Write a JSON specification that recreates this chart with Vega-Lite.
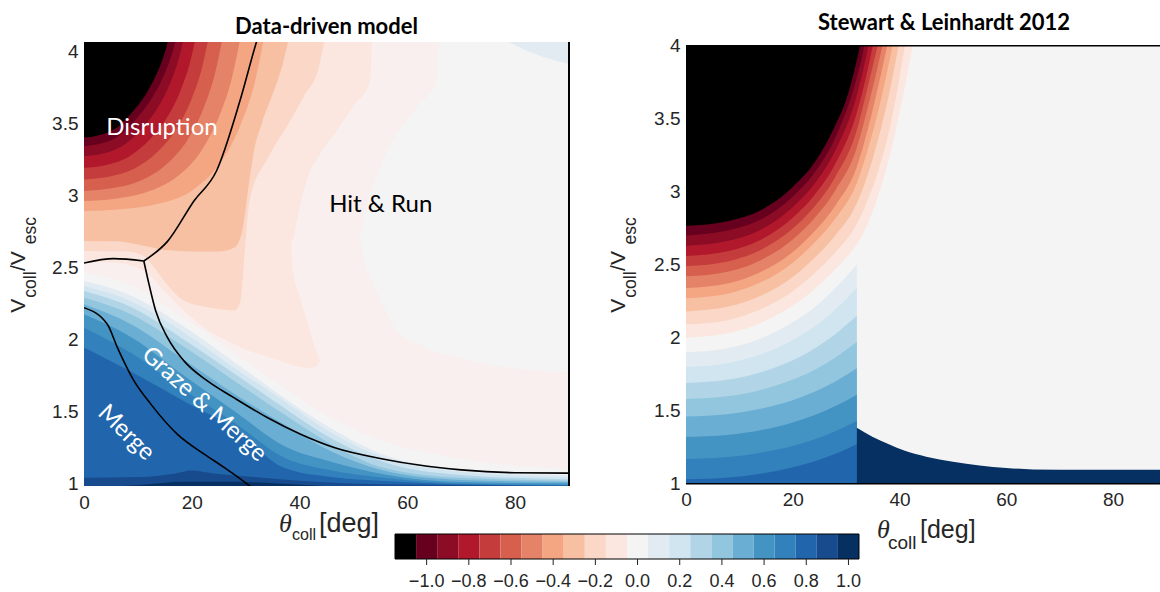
{
"$schema": "https://vega.github.io/schema/vega-lite/v6.json",
"padding": {"left": 7, "top": 11, "right": 0, "bottom": 0},
"background": "white",
"config": {
  "view": {"stroke": null},
  "axis": {"grid": false, "ticks": false, "domain": false, "labelFlush": false, "labelFont": "Liberation Sans", "labelFontSize": 19, "labelColor": "#262626", "title": null},
  "title": {"font": "Lato", "fontSize": 22, "fontWeight": "bold", "color": "#000000", "frame": "group", "baseline": "alphabetic"}
},
"datasets": {
  "a_fill": [
    {"p":"a00","z":-0.05,"t":0,"lo":0.98,"hi":4.07},{"p":"a00","z":-0.05,"t":90,"lo":0.98,"hi":4.07},
    {"p":"a01","z":0,"t":51.2,"lo":2.70,"hi":2.72},{"p":"a01","z":0,"t":52,"lo":2.55,"hi":2.86},{"p":"a01","z":0,"t":53.5,"lo":2.40,"hi":3.06},{"p":"a01","z":0,"t":55,"lo":2.28,"hi":3.20},{"p":"a01","z":0,"t":58,"lo":2.06,"hi":3.42},{"p":"a01","z":0,"t":62,"lo":1.97,"hi":3.62},{"p":"a01","z":0,"t":65.4,"lo":1.91,"hi":3.79},{"p":"a01","z":0,"t":66,"lo":1.905,"hi":4.07},{"p":"a01","z":0,"t":70,"lo":1.87,"hi":4.07},{"p":"a01","z":0,"t":75,"lo":1.83,"hi":4.07},{"p":"a01","z":0,"t":80,"lo":1.80,"hi":4.07},{"p":"a01","z":0,"t":85,"lo":1.78,"hi":4.07},{"p":"a01","z":0,"t":90,"lo":1.77,"hi":4.07},
    {"p":"a02","z":0.1,"t":78.4,"lo":4.07,"hi":4.07},{"p":"a02","z":0.1,"t":80,"lo":4.04,"hi":4.07},{"p":"a02","z":0.1,"t":83,"lo":3.99,"hi":4.07},{"p":"a02","z":0.1,"t":86,"lo":3.95,"hi":4.07},{"p":"a02","z":0.1,"t":90,"lo":3.91,"hi":4.07},
    {"p":"a10","z":0,"t":0,"lo":0.98,"hi":2.463},{"p":"a10","z":0,"t":9,"lo":0.98,"hi":2.37},{"p":"a10","z":0,"t":18.5,"lo":0.98,"hi":2.15},{"p":"a10","z":0,"t":28,"lo":0.98,"hi":1.90},{"p":"a10","z":0,"t":37.1,"lo":0.98,"hi":1.665},{"p":"a10","z":0,"t":46,"lo":0.98,"hi":1.45},{"p":"a10","z":0,"t":55.6,"lo":0.98,"hi":1.295},{"p":"a10","z":0,"t":70,"lo":0.98,"hi":1.17},{"p":"a10","z":0,"t":90,"lo":0.98,"hi":1.10},
    {"p":"a11","z":0.1,"t":0,"lo":0.98,"hi":2.405},{"p":"a11","z":0.1,"t":9,"lo":0.98,"hi":2.30},{"p":"a11","z":0.1,"t":18.5,"lo":0.98,"hi":2.09},{"p":"a11","z":0.1,"t":28,"lo":0.98,"hi":1.84},{"p":"a11","z":0.1,"t":37.1,"lo":0.98,"hi":1.596},{"p":"a11","z":0.1,"t":46,"lo":0.98,"hi":1.38},{"p":"a11","z":0.1,"t":55.6,"lo":0.98,"hi":1.20},{"p":"a11","z":0.1,"t":70,"lo":0.98,"hi":1.10},{"p":"a11","z":0.1,"t":90,"lo":0.98,"hi":1.06},
    {"p":"a12","z":0.2,"t":0,"lo":0.98,"hi":2.37},{"p":"a12","z":0.2,"t":9,"lo":0.98,"hi":2.26},{"p":"a12","z":0.2,"t":18.5,"lo":0.98,"hi":2.05},{"p":"a12","z":0.2,"t":28,"lo":0.98,"hi":1.80},{"p":"a12","z":0.2,"t":37.1,"lo":0.98,"hi":1.573},{"p":"a12","z":0.2,"t":46,"lo":0.98,"hi":1.35},{"p":"a12","z":0.2,"t":55.6,"lo":0.98,"hi":1.18},{"p":"a12","z":0.2,"t":70,"lo":0.98,"hi":1.08},{"p":"a12","z":0.2,"t":90,"lo":0.98,"hi":1.045},
    {"p":"a13","z":0.3,"t":0,"lo":0.98,"hi":2.336},{"p":"a13","z":0.3,"t":9,"lo":0.98,"hi":2.22},{"p":"a13","z":0.3,"t":18.5,"lo":0.98,"hi":2.00},{"p":"a13","z":0.3,"t":28,"lo":0.98,"hi":1.76},{"p":"a13","z":0.3,"t":37.1,"lo":0.98,"hi":1.526},{"p":"a13","z":0.3,"t":46,"lo":0.98,"hi":1.31},{"p":"a13","z":0.3,"t":55.6,"lo":0.98,"hi":1.15},{"p":"a13","z":0.3,"t":70,"lo":0.98,"hi":1.06},{"p":"a13","z":0.3,"t":90,"lo":0.98,"hi":1.03},
    {"p":"a14","z":0.4,"t":0,"lo":0.98,"hi":2.289},{"p":"a14","z":0.4,"t":9,"lo":0.98,"hi":2.17},{"p":"a14","z":0.4,"t":18.5,"lo":0.98,"hi":1.95},{"p":"a14","z":0.4,"t":28,"lo":0.98,"hi":1.71},{"p":"a14","z":0.4,"t":37.1,"lo":0.98,"hi":1.48},{"p":"a14","z":0.4,"t":46,"lo":0.98,"hi":1.27},{"p":"a14","z":0.4,"t":55.6,"lo":0.98,"hi":1.11},{"p":"a14","z":0.4,"t":70,"lo":0.98,"hi":1.04},{"p":"a14","z":0.4,"t":90,"lo":0.98,"hi":1.02},
    {"p":"a15","z":0.5,"t":0,"lo":0.98,"hi":2.243},{"p":"a15","z":0.5,"t":9,"lo":0.98,"hi":2.10},{"p":"a15","z":0.5,"t":18.5,"lo":0.98,"hi":1.86},{"p":"a15","z":0.5,"t":28,"lo":0.98,"hi":1.62},{"p":"a15","z":0.5,"t":37.1,"lo":0.98,"hi":1.411},{"p":"a15","z":0.5,"t":46,"lo":0.98,"hi":1.22},{"p":"a15","z":0.5,"t":55.6,"lo":0.98,"hi":1.09},{"p":"a15","z":0.5,"t":70,"lo":0.98,"hi":1.025},{"p":"a15","z":0.5,"t":90,"lo":0.98,"hi":1.01},
    {"p":"a16","z":0.6,"t":0,"lo":0.98,"hi":2.174},{"p":"a16","z":0.6,"t":9,"lo":0.98,"hi":2.01},{"p":"a16","z":0.6,"t":18.5,"lo":0.98,"hi":1.75},{"p":"a16","z":0.6,"t":28,"lo":0.98,"hi":1.50},{"p":"a16","z":0.6,"t":37.1,"lo":0.98,"hi":1.26},{"p":"a16","z":0.6,"t":46,"lo":0.98,"hi":1.15},{"p":"a16","z":0.6,"t":55.6,"lo":0.98,"hi":1.065},{"p":"a16","z":0.6,"t":70,"lo":0.98,"hi":1.01},{"p":"a16","z":0.6,"t":90,"lo":0.98,"hi":1.0},
    {"p":"a17","z":0.7,"t":0,"lo":0.98,"hi":2.081},{"p":"a17","z":0.7,"t":9,"lo":0.98,"hi":1.90},{"p":"a17","z":0.7,"t":18.5,"lo":0.98,"hi":1.65},{"p":"a17","z":0.7,"t":28,"lo":0.98,"hi":1.42},{"p":"a17","z":0.7,"t":37.1,"lo":0.98,"hi":1.18},{"p":"a17","z":0.7,"t":46,"lo":0.98,"hi":1.09},{"p":"a17","z":0.7,"t":55.6,"lo":0.98,"hi":1.04},{"p":"a17","z":0.7,"t":70,"lo":0.98,"hi":1.0},{"p":"a17","z":0.7,"t":90,"lo":0.98,"hi":0.99},
    {"p":"a18","z":0.8,"t":0,"lo":0.98,"hi":1.943},{"p":"a18","z":0.8,"t":9,"lo":0.98,"hi":1.77},{"p":"a18","z":0.8,"t":18.5,"lo":0.98,"hi":1.573},{"p":"a18","z":0.8,"t":28,"lo":0.98,"hi":1.38},{"p":"a18","z":0.8,"t":37.1,"lo":0.98,"hi":1.11},{"p":"a18","z":0.8,"t":46,"lo":0.98,"hi":1.045},{"p":"a18","z":0.8,"t":55.6,"lo":0.98,"hi":1.018},{"p":"a18","z":0.8,"t":70,"lo":0.98,"hi":0.995},{"p":"a18","z":0.8,"t":90,"lo":0.98,"hi":0.985},
    {"p":"a19","z":0.9,"t":0,"lo":0.98,"hi":1.04},{"p":"a19","z":0.9,"t":10,"lo":0.98,"hi":1.045},{"p":"a19","z":0.9,"t":17,"lo":0.98,"hi":1.07},{"p":"a19","z":0.9,"t":20,"lo":0.98,"hi":1.09},{"p":"a19","z":0.9,"t":24,"lo":0.98,"hi":1.07},{"p":"a19","z":0.9,"t":30,"lo":0.98,"hi":1.05},{"p":"a19","z":0.9,"t":40,"lo":0.98,"hi":1.02},{"p":"a19","z":0.9,"t":55,"lo":0.98,"hi":0.995},{"p":"a19","z":0.9,"t":90,"lo":0.98,"hi":0.985},
    {"p":"a20","z":1.0,"t":6,"lo":0.98,"hi":0.98},{"p":"a20","z":1.0,"t":12,"lo":0.98,"hi":0.995},{"p":"a20","z":1.0,"t":18,"lo":0.98,"hi":1.012},{"p":"a20","z":1.0,"t":28,"lo":0.98,"hi":1.012},{"p":"a20","z":1.0,"t":36,"lo":0.98,"hi":1.0},{"p":"a20","z":1.0,"t":46,"lo":0.98,"hi":0.98},
    {"p":"a31","z":-0.1,"t":0,"lo":2.532,"hi":4.07},{"p":"a31","z":-0.1,"t":5,"lo":2.535,"hi":4.07},{"p":"a31","z":-0.1,"t":9,"lo":2.51,"hi":4.07},{"p":"a31","z":-0.1,"t":12,"lo":2.45,"hi":4.07},{"p":"a31","z":-0.1,"t":15,"lo":2.33,"hi":4.07},{"p":"a31","z":-0.1,"t":18.5,"lo":2.20,"hi":4.07},{"p":"a31","z":-0.1,"t":22,"lo":2.09,"hi":4.07},{"p":"a31","z":-0.1,"t":26,"lo":2.00,"hi":4.07},{"p":"a31","z":-0.1,"t":30,"lo":1.93,"hi":4.07},{"p":"a31","z":-0.1,"t":34,"lo":1.88,"hi":4.07},{"p":"a31","z":-0.1,"t":38,"lo":1.83,"hi":4.07},{"p":"a31","z":-0.1,"t":38.6,"lo":1.82,"hi":2.52},{"p":"a31","z":-0.1,"t":40.1,"lo":1.81,"hi":2.29},{"p":"a31","z":-0.1,"t":41.9,"lo":1.80,"hi":2.06},{"p":"a31","z":-0.1,"t":43.0,"lo":1.81,"hi":1.93},{"p":"a31","z":-0.1,"t":43.8,"lo":1.85,"hi":1.86},
    {"p":"a32","z":-0.1,"t":37.6,"lo":2.70,"hi":4.07},{"p":"a32","z":-0.1,"t":38.6,"lo":2.68,"hi":4.07},{"p":"a32","z":-0.1,"t":39.6,"lo":2.84,"hi":4.07},{"p":"a32","z":-0.1,"t":41.3,"lo":3.10,"hi":4.07},{"p":"a32","z":-0.1,"t":44,"lo":3.30,"hi":4.07},{"p":"a32","z":-0.1,"t":46.9,"lo":3.445,"hi":4.07},{"p":"a32","z":-0.1,"t":50,"lo":3.62,"hi":4.07},{"p":"a32","z":-0.1,"t":53.1,"lo":3.79,"hi":4.07},{"p":"a32","z":-0.1,"t":53.4,"lo":4.07,"hi":4.07},
    {"p":"a33","z":-0.2,"t":0,"lo":2.613,"hi":4.07},{"p":"a33","z":-0.2,"t":8,"lo":2.61,"hi":4.07},{"p":"a33","z":-0.2,"t":11,"lo":2.58,"hi":4.07},{"p":"a33","z":-0.2,"t":13,"lo":2.50,"hi":4.07},{"p":"a33","z":-0.2,"t":15,"lo":2.40,"hi":4.07},{"p":"a33","z":-0.2,"t":18.5,"lo":2.27,"hi":4.07},{"p":"a33","z":-0.2,"t":22,"lo":2.23,"hi":4.07},{"p":"a33","z":-0.2,"t":25,"lo":2.21,"hi":4.07},{"p":"a33","z":-0.2,"t":27.8,"lo":2.20,"hi":4.07},{"p":"a33","z":-0.2,"t":29,"lo":2.26,"hi":4.07},{"p":"a33","z":-0.2,"t":29.8,"lo":2.60,"hi":4.07},{"p":"a33","z":-0.2,"t":30.8,"lo":2.98,"hi":4.07},{"p":"a33","z":-0.2,"t":34,"lo":3.25,"hi":4.07},{"p":"a33","z":-0.2,"t":38,"lo":3.50,"hi":4.07},{"p":"a33","z":-0.2,"t":41,"lo":3.70,"hi":4.07},{"p":"a33","z":-0.2,"t":43.5,"lo":3.88,"hi":4.07},{"p":"a33","z":-0.2,"t":44.6,"lo":4.07,"hi":4.07},
    {"p":"a34","z":-0.3,"t":0,"lo":2.683,"hi":4.07},{"p":"a34","z":-0.3,"t":6,"lo":2.68,"hi":4.07},{"p":"a34","z":-0.3,"t":11,"lo":2.65,"hi":4.07},{"p":"a34","z":-0.3,"t":15,"lo":2.62,"hi":4.07},{"p":"a34","z":-0.3,"t":20,"lo":2.61,"hi":4.07},{"p":"a34","z":-0.3,"t":25,"lo":2.61,"hi":4.07},{"p":"a34","z":-0.3,"t":28,"lo":2.64,"hi":4.07},{"p":"a34","z":-0.3,"t":29.5,"lo":2.78,"hi":4.07},{"p":"a34","z":-0.3,"t":30.5,"lo":3.05,"hi":4.07},{"p":"a34","z":-0.3,"t":31.5,"lo":3.30,"hi":4.07},{"p":"a34","z":-0.3,"t":33,"lo":3.50,"hi":4.07},{"p":"a34","z":-0.3,"t":35,"lo":3.70,"hi":4.07},{"p":"a34","z":-0.3,"t":36.8,"lo":3.90,"hi":4.07},{"p":"a34","z":-0.3,"t":37.9,"lo":4.07,"hi":4.07},
    {"p":"a35","z":-0.4,"t":0,"lo":2.89,"hi":4.07},{"p":"a35","z":-0.4,"t":6.66,"lo":2.902,"hi":4.07},{"p":"a35","z":-0.4,"t":13.32,"lo":2.937,"hi":4.07},{"p":"a35","z":-0.4,"t":19.98,"lo":3.032,"hi":4.07},{"p":"a35","z":-0.4,"t":24.98,"lo":3.209,"hi":4.07},{"p":"a35","z":-0.4,"t":28.97,"lo":3.48,"hi":4.07},{"p":"a35","z":-0.4,"t":31.64,"lo":3.775,"hi":4.07},{"p":"a35","z":-0.4,"t":33.3,"lo":4.07,"hi":4.07},
    {"p":"a36","z":-0.5,"t":0,"lo":2.96,"hi":4.07},{"p":"a36","z":-0.5,"t":5.78,"lo":2.976,"hi":4.07},{"p":"a36","z":-0.5,"t":11.56,"lo":3.02,"hi":4.07},{"p":"a36","z":-0.5,"t":17.34,"lo":3.131,"hi":4.07},{"p":"a36","z":-0.5,"t":21.68,"lo":3.304,"hi":4.07},{"p":"a36","z":-0.5,"t":25.14,"lo":3.553,"hi":4.07},{"p":"a36","z":-0.5,"t":27.46,"lo":3.815,"hi":4.07},{"p":"a36","z":-0.5,"t":28.9,"lo":4.07,"hi":4.07},
    {"p":"a37","z":-0.6,"t":0,"lo":3.03,"hi":4.07},{"p":"a37","z":-0.6,"t":5.12,"lo":3.048,"hi":4.07},{"p":"a37","z":-0.6,"t":10.24,"lo":3.097,"hi":4.07},{"p":"a37","z":-0.6,"t":15.36,"lo":3.217,"hi":4.07},{"p":"a37","z":-0.6,"t":19.2,"lo":3.384,"hi":4.07},{"p":"a37","z":-0.6,"t":22.27,"lo":3.612,"hi":4.07},{"p":"a37","z":-0.6,"t":24.32,"lo":3.846,"hi":4.07},{"p":"a37","z":-0.6,"t":25.6,"lo":4.07,"hi":4.07},
    {"p":"a38","z":-0.7,"t":0,"lo":3.11,"hi":4.07},{"p":"a38","z":-0.7,"t":4.6,"lo":3.129,"hi":4.07},{"p":"a38","z":-0.7,"t":9.2,"lo":3.182,"hi":4.07},{"p":"a38","z":-0.7,"t":13.8,"lo":3.307,"hi":4.07},{"p":"a38","z":-0.7,"t":17.25,"lo":3.465,"hi":4.07},{"p":"a38","z":-0.7,"t":20.01,"lo":3.672,"hi":4.07},{"p":"a38","z":-0.7,"t":21.85,"lo":3.878,"hi":4.07},{"p":"a38","z":-0.7,"t":23.0,"lo":4.07,"hi":4.07},
    {"p":"a39","z":-0.8,"t":0,"lo":3.19,"hi":4.07},{"p":"a39","z":-0.8,"t":4.12,"lo":3.21,"hi":4.07},{"p":"a39","z":-0.8,"t":8.24,"lo":3.265,"hi":4.07},{"p":"a39","z":-0.8,"t":12.36,"lo":3.393,"hi":4.07},{"p":"a39","z":-0.8,"t":15.45,"lo":3.542,"hi":4.07},{"p":"a39","z":-0.8,"t":17.92,"lo":3.727,"hi":4.07},{"p":"a39","z":-0.8,"t":19.57,"lo":3.907,"hi":4.07},{"p":"a39","z":-0.8,"t":20.6,"lo":4.07,"hi":4.07},
    {"p":"a40","z":-0.9,"t":0,"lo":3.27,"hi":4.07},{"p":"a40","z":-0.9,"t":3.68,"lo":3.291,"hi":4.07},{"p":"a40","z":-0.9,"t":7.36,"lo":3.347,"hi":4.07},{"p":"a40","z":-0.9,"t":11.04,"lo":3.475,"hi":4.07},{"p":"a40","z":-0.9,"t":13.8,"lo":3.614,"hi":4.07},{"p":"a40","z":-0.9,"t":16.01,"lo":3.779,"hi":4.07},{"p":"a40","z":-0.9,"t":17.48,"lo":3.934,"hi":4.07},{"p":"a40","z":-0.9,"t":18.4,"lo":4.07,"hi":4.07},
    {"p":"a41","z":-1.0,"t":0,"lo":3.34,"hi":4.07},{"p":"a41","z":-1.0,"t":3.4,"lo":3.362,"hi":4.07},{"p":"a41","z":-1.0,"t":6.8,"lo":3.42,"hi":4.07},{"p":"a41","z":-1.0,"t":10.2,"lo":3.552,"hi":4.07},{"p":"a41","z":-1.0,"t":12.75,"lo":3.683,"hi":4.07},{"p":"a41","z":-1.0,"t":14.79,"lo":3.829,"hi":4.07},{"p":"a41","z":-1.0,"t":16.15,"lo":3.961,"hi":4.07},{"p":"a41","z":-1.0,"t":17.0,"lo":4.07,"hi":4.07},
    {"p":"a42","z":-1.1,"t":0,"lo":3.40,"hi":4.07},{"p":"a42","z":-1.1,"t":3.12,"lo":3.42,"hi":4.07},{"p":"a42","z":-1.1,"t":6.24,"lo":3.474,"hi":4.07},{"p":"a42","z":-1.1,"t":9.36,"lo":3.594,"hi":4.07},{"p":"a42","z":-1.1,"t":11.7,"lo":3.715,"hi":4.07},{"p":"a42","z":-1.1,"t":13.57,"lo":3.849,"hi":4.07},{"p":"a42","z":-1.1,"t":14.82,"lo":3.970,"hi":4.07},{"p":"a42","z":-1.1,"t":15.6,"lo":4.07,"hi":4.07}
  ],
  "a_lines": [
    {"id":"l1","t":11.1,"v":2.544},{"id":"l1","t":15.5,"v":2.68},{"id":"l1","t":20.4,"v":2.96},{"id":"l1","t":24.6,"v":3.17},{"id":"l1","t":28.9,"v":3.65},{"id":"l1","t":32.0,"v":4.063},{"id":"l1","t":32.3,"v":4.1},
    {"id":"l2","t":0,"v":2.53},{"id":"l2","t":5.5,"v":2.56},{"id":"l2","t":11.1,"v":2.544},
    {"id":"l3","t":11.1,"v":2.544},{"id":"l3","t":12.06,"v":2.383},{"id":"l3","t":13.3,"v":2.198},{"id":"l3","t":15.5,"v":2.013},{"id":"l3","t":18.55,"v":1.851},{"id":"l3","t":22.9,"v":1.712},{"id":"l3","t":27.8,"v":1.596},{"id":"l3","t":34.0,"v":1.458},{"id":"l3","t":40.2,"v":1.342},{"id":"l3","t":46.4,"v":1.25},{"id":"l3","t":55.7,"v":1.169},{"id":"l3","t":61.8,"v":1.13},{"id":"l3","t":70,"v":1.095},{"id":"l3","t":80,"v":1.075},{"id":"l3","t":90,"v":1.072},
    {"id":"l4","t":0,"v":2.22},{"id":"l4","t":4.33,"v":2.105},{"id":"l4","t":6.2,"v":1.943},{"id":"l4","t":9.28,"v":1.712},{"id":"l4","t":12.4,"v":1.551},{"id":"l4","t":17.3,"v":1.343},{"id":"l4","t":22.3,"v":1.204},{"id":"l4","t":26.0,"v":1.112},{"id":"l4","t":30.3,"v":0.996},{"id":"l4","t":31,"v":0.975}
  ],
  "b_fill": [
    {"p":"b00","z":0,"t":0,"lo":1,"hi":4},{"p":"b00","z":0,"t":90,"lo":1,"hi":4},
    {"p":"b10","z":-0.1,"t":0,"lo":2.00,"hi":4},{"p":"b10","z":-0.1,"t":8,"lo":2.03,"hi":4},{"p":"b10","z":-0.1,"t":14,"lo":2.10,"hi":4},{"p":"b10","z":-0.1,"t":20,"lo":2.22,"hi":4},{"p":"b10","z":-0.1,"t":24,"lo":2.33,"hi":4},{"p":"b10","z":-0.1,"t":28,"lo":2.47,"hi":4},{"p":"b10","z":-0.1,"t":32,"lo":2.64,"hi":4},{"p":"b10","z":-0.1,"t":33,"lo":2.70,"hi":4},{"p":"b10","z":-0.1,"t":34.5,"lo":2.82,"hi":4},{"p":"b10","z":-0.1,"t":36,"lo":2.97,"hi":4},{"p":"b10","z":-0.1,"t":38,"lo":3.22,"hi":4},{"p":"b10","z":-0.1,"t":40,"lo":3.54,"hi":4},{"p":"b10","z":-0.1,"t":42.5,"lo":4.0,"hi":4},
    {"p":"b09","z":-0.2,"t":0,"lo":2.09,"hi":4},{"p":"b09","z":-0.2,"t":8,"lo":2.121,"hi":4},{"p":"b09","z":-0.2,"t":14,"lo":2.194,"hi":4},{"p":"b09","z":-0.2,"t":20,"lo":2.318,"hi":4},{"p":"b09","z":-0.2,"t":24,"lo":2.439,"hi":4},{"p":"b09","z":-0.2,"t":28,"lo":2.585,"hi":4},{"p":"b09","z":-0.2,"t":32,"lo":2.78,"hi":4},{"p":"b09","z":-0.2,"t":34,"lo":2.94,"hi":4},{"p":"b09","z":-0.2,"t":36,"lo":3.14,"hi":4},{"p":"b09","z":-0.2,"t":38,"lo":3.41,"hi":4},{"p":"b09","z":-0.2,"t":39.5,"lo":3.68,"hi":4},{"p":"b09","z":-0.2,"t":41,"lo":4.0,"hi":4},
    {"p":"b08","z":-0.3,"t":0,"lo":2.18,"hi":4},{"p":"b08","z":-0.3,"t":8,"lo":2.213,"hi":4},{"p":"b08","z":-0.3,"t":14,"lo":2.287,"hi":4},{"p":"b08","z":-0.3,"t":20,"lo":2.416,"hi":4},{"p":"b08","z":-0.3,"t":24,"lo":2.544,"hi":4},{"p":"b08","z":-0.3,"t":28,"lo":2.702,"hi":4},{"p":"b08","z":-0.3,"t":32,"lo":2.92,"hi":4},{"p":"b08","z":-0.3,"t":34,"lo":3.11,"hi":4},{"p":"b08","z":-0.3,"t":36,"lo":3.36,"hi":4},{"p":"b08","z":-0.3,"t":38,"lo":3.66,"hi":4},{"p":"b08","z":-0.3,"t":39.8,"lo":4.0,"hi":4},
    {"p":"b07","z":-0.4,"t":0,"lo":2.27,"hi":4},{"p":"b07","z":-0.4,"t":8,"lo":2.303,"hi":4},{"p":"b07","z":-0.4,"t":14,"lo":2.379,"hi":4},{"p":"b07","z":-0.4,"t":20,"lo":2.514,"hi":4},{"p":"b07","z":-0.4,"t":24,"lo":2.648,"hi":4},{"p":"b07","z":-0.4,"t":28,"lo":2.818,"hi":4},{"p":"b07","z":-0.4,"t":32,"lo":3.06,"hi":4},{"p":"b07","z":-0.4,"t":34,"lo":3.28,"hi":4},{"p":"b07","z":-0.4,"t":36,"lo":3.55,"hi":4},{"p":"b07","z":-0.4,"t":38.7,"lo":4.0,"hi":4},
    {"p":"b06","z":-0.5,"t":0,"lo":2.34,"hi":4},{"p":"b06","z":-0.5,"t":8,"lo":2.373,"hi":4},{"p":"b06","z":-0.5,"t":14,"lo":2.45,"hi":4},{"p":"b06","z":-0.5,"t":20,"lo":2.587,"hi":4},{"p":"b06","z":-0.5,"t":24,"lo":2.725,"hi":4},{"p":"b06","z":-0.5,"t":28,"lo":2.906,"hi":4},{"p":"b06","z":-0.5,"t":32,"lo":3.17,"hi":4},{"p":"b06","z":-0.5,"t":34,"lo":3.42,"hi":4},{"p":"b06","z":-0.5,"t":36,"lo":3.72,"hi":4},{"p":"b06","z":-0.5,"t":37.7,"lo":4.0,"hi":4},
    {"p":"b05","z":-0.6,"t":0,"lo":2.42,"hi":4},{"p":"b05","z":-0.6,"t":8,"lo":2.454,"hi":4},{"p":"b05","z":-0.6,"t":14,"lo":2.531,"hi":4},{"p":"b05","z":-0.6,"t":20,"lo":2.673,"hi":4},{"p":"b05","z":-0.6,"t":24,"lo":2.816,"hi":4},{"p":"b05","z":-0.6,"t":28,"lo":3.01,"hi":4},{"p":"b05","z":-0.6,"t":32,"lo":3.30,"hi":4},{"p":"b05","z":-0.6,"t":34,"lo":3.57,"hi":4},{"p":"b05","z":-0.6,"t":36,"lo":3.87,"hi":4},{"p":"b05","z":-0.6,"t":36.8,"lo":4.0,"hi":4},
    {"p":"b04","z":-0.7,"t":0,"lo":2.49,"hi":4},{"p":"b04","z":-0.7,"t":8,"lo":2.524,"hi":4},{"p":"b04","z":-0.7,"t":14,"lo":2.601,"hi":4},{"p":"b04","z":-0.7,"t":20,"lo":2.748,"hi":4},{"p":"b04","z":-0.7,"t":24,"lo":2.895,"hi":4},{"p":"b04","z":-0.7,"t":28,"lo":3.102,"hi":4},{"p":"b04","z":-0.7,"t":32,"lo":3.42,"hi":4},{"p":"b04","z":-0.7,"t":34,"lo":3.71,"hi":4},{"p":"b04","z":-0.7,"t":35.9,"lo":4.0,"hi":4},
    {"p":"b03","z":-0.8,"t":0,"lo":2.56,"hi":4},{"p":"b03","z":-0.8,"t":8,"lo":2.594,"hi":4},{"p":"b03","z":-0.8,"t":14,"lo":2.671,"hi":4},{"p":"b03","z":-0.8,"t":20,"lo":2.822,"hi":4},{"p":"b03","z":-0.8,"t":24,"lo":2.974,"hi":4},{"p":"b03","z":-0.8,"t":28,"lo":3.193,"hi":4},{"p":"b03","z":-0.8,"t":32,"lo":3.54,"hi":4},{"p":"b03","z":-0.8,"t":33.5,"lo":3.75,"hi":4},{"p":"b03","z":-0.8,"t":35.0,"lo":4.0,"hi":4},
    {"p":"b02","z":-0.9,"t":0,"lo":2.63,"hi":4},{"p":"b02","z":-0.9,"t":8,"lo":2.664,"hi":4},{"p":"b02","z":-0.9,"t":14,"lo":2.74,"hi":4},{"p":"b02","z":-0.9,"t":20,"lo":2.894,"hi":4},{"p":"b02","z":-0.9,"t":24,"lo":3.05,"hi":4},{"p":"b02","z":-0.9,"t":28,"lo":3.283,"hi":4},{"p":"b02","z":-0.9,"t":32,"lo":3.66,"hi":4},{"p":"b02","z":-0.9,"t":33.1,"lo":3.82,"hi":4},{"p":"b02","z":-0.9,"t":34.2,"lo":4.0,"hi":4},
    {"p":"b01","z":-1.0,"t":0,"lo":2.70,"hi":4},{"p":"b01","z":-1.0,"t":8,"lo":2.735,"hi":4},{"p":"b01","z":-1.0,"t":14,"lo":2.809,"hi":4},{"p":"b01","z":-1.0,"t":20,"lo":2.966,"hi":4},{"p":"b01","z":-1.0,"t":24,"lo":3.126,"hi":4},{"p":"b01","z":-1.0,"t":28,"lo":3.372,"hi":4},{"p":"b01","z":-1.0,"t":32,"lo":3.78,"hi":4},{"p":"b01","z":-1.0,"t":32.7,"lo":3.88,"hi":4},{"p":"b01","z":-1.0,"t":33.4,"lo":4.0,"hi":4},
    {"p":"b0k","z":-1.1,"t":0,"lo":2.765,"hi":4},{"p":"b0k","z":-1.1,"t":8,"lo":2.799,"hi":4},{"p":"b0k","z":-1.1,"t":14,"lo":2.873,"hi":4},{"p":"b0k","z":-1.1,"t":20,"lo":3.032,"hi":4},{"p":"b0k","z":-1.1,"t":24,"lo":3.196,"hi":4},{"p":"b0k","z":-1.1,"t":28,"lo":3.457,"hi":4},{"p":"b0k","z":-1.1,"t":30,"lo":3.63,"hi":4},{"p":"b0k","z":-1.1,"t":32,"lo":3.90,"hi":4},{"p":"b0k","z":-1.1,"t":32.6,"lo":4.0,"hi":4},
    {"p":"b11","z":0.1,"t":0,"lo":1,"hi":1.90},{"p":"b11","z":0.1,"t":8,"lo":1,"hi":1.93},{"p":"b11","z":0.1,"t":14,"lo":1,"hi":1.995},{"p":"b11","z":0.1,"t":20,"lo":1,"hi":2.105},{"p":"b11","z":0.1,"t":24,"lo":1,"hi":2.205},{"p":"b11","z":0.1,"t":28,"lo":1,"hi":2.34},{"p":"b11","z":0.1,"t":32,"lo":1,"hi":2.50},
    {"p":"b12","z":0.2,"t":0,"lo":1,"hi":1.80},{"p":"b12","z":0.2,"t":8,"lo":1,"hi":1.827},{"p":"b12","z":0.2,"t":14,"lo":1,"hi":1.886},{"p":"b12","z":0.2,"t":20,"lo":1,"hi":1.984},{"p":"b12","z":0.2,"t":24,"lo":1,"hi":2.075},{"p":"b12","z":0.2,"t":28,"lo":1,"hi":2.194},{"p":"b12","z":0.2,"t":32,"lo":1,"hi":2.34},
    {"p":"b13","z":0.3,"t":0,"lo":1,"hi":1.69},{"p":"b13","z":0.3,"t":8,"lo":1,"hi":1.713},{"p":"b13","z":0.3,"t":14,"lo":1,"hi":1.764},{"p":"b13","z":0.3,"t":20,"lo":1,"hi":1.846},{"p":"b13","z":0.3,"t":24,"lo":1,"hi":1.925},{"p":"b13","z":0.3,"t":28,"lo":1,"hi":2.026},{"p":"b13","z":0.3,"t":32,"lo":1,"hi":2.15},
    {"p":"b14","z":0.4,"t":0,"lo":1,"hi":1.58},{"p":"b14","z":0.4,"t":8,"lo":1,"hi":1.60},{"p":"b14","z":0.4,"t":14,"lo":1,"hi":1.642},{"p":"b14","z":0.4,"t":20,"lo":1,"hi":1.713},{"p":"b14","z":0.4,"t":24,"lo":1,"hi":1.779},{"p":"b14","z":0.4,"t":28,"lo":1,"hi":1.865},{"p":"b14","z":0.4,"t":32,"lo":1,"hi":1.97},
    {"p":"b15","z":0.5,"t":0,"lo":1,"hi":1.46},{"p":"b15","z":0.5,"t":8,"lo":1,"hi":1.477},{"p":"b15","z":0.5,"t":14,"lo":1,"hi":1.513},{"p":"b15","z":0.5,"t":20,"lo":1,"hi":1.572},{"p":"b15","z":0.5,"t":24,"lo":1,"hi":1.628},{"p":"b15","z":0.5,"t":28,"lo":1,"hi":1.70},{"p":"b15","z":0.5,"t":32,"lo":1,"hi":1.79},
    {"p":"b16","z":0.6,"t":0,"lo":1,"hi":1.32},{"p":"b16","z":0.6,"t":8,"lo":1,"hi":1.335},{"p":"b16","z":0.6,"t":14,"lo":1,"hi":1.366},{"p":"b16","z":0.6,"t":20,"lo":1,"hi":1.419},{"p":"b16","z":0.6,"t":24,"lo":1,"hi":1.468},{"p":"b16","z":0.6,"t":28,"lo":1,"hi":1.532},{"p":"b16","z":0.6,"t":32,"lo":1,"hi":1.61},
    {"p":"b17","z":0.7,"t":0,"lo":1,"hi":1.17},{"p":"b17","z":0.7,"t":8,"lo":1,"hi":1.183},{"p":"b17","z":0.7,"t":14,"lo":1,"hi":1.212},{"p":"b17","z":0.7,"t":20,"lo":1,"hi":1.258},{"p":"b17","z":0.7,"t":24,"lo":1,"hi":1.303},{"p":"b17","z":0.7,"t":28,"lo":1,"hi":1.36},{"p":"b17","z":0.7,"t":32,"lo":1,"hi":1.43},
    {"p":"b18","z":0.8,"t":0,"lo":1,"hi":1.03},{"p":"b18","z":0.8,"t":8,"lo":1,"hi":1.042},{"p":"b18","z":0.8,"t":14,"lo":1,"hi":1.068},{"p":"b18","z":0.8,"t":20,"lo":1,"hi":1.112},{"p":"b18","z":0.8,"t":24,"lo":1,"hi":1.152},{"p":"b18","z":0.8,"t":28,"lo":1,"hi":1.205},{"p":"b18","z":0.8,"t":32,"lo":1,"hi":1.27},
    {"p":"b20","z":1.0,"t":32,"lo":1,"hi":1.384},{"p":"b20","z":1.0,"t":35,"lo":1,"hi":1.32},{"p":"b20","z":1.0,"t":38,"lo":1,"hi":1.27},{"p":"b20","z":1.0,"t":41,"lo":1,"hi":1.225},{"p":"b20","z":1.0,"t":45,"lo":1,"hi":1.185},{"p":"b20","z":1.0,"t":50,"lo":1,"hi":1.15},{"p":"b20","z":1.0,"t":55,"lo":1,"hi":1.125},{"p":"b20","z":1.0,"t":60,"lo":1,"hi":1.108},{"p":"b20","z":1.0,"t":65,"lo":1,"hi":1.098},{"p":"b20","z":1.0,"t":75,"lo":1,"hi":1.095},{"p":"b20","z":1.0,"t":90,"lo":1,"hi":1.095}
  ],
  "cbar": [
    {"z":-1.1,"lo":-1.15,"hi":-1.05},{"z":-1.0,"lo":-1.05,"hi":-0.95},{"z":-0.9,"lo":-0.95,"hi":-0.85},{"z":-0.8,"lo":-0.85,"hi":-0.75},{"z":-0.7,"lo":-0.75,"hi":-0.65},{"z":-0.6,"lo":-0.65,"hi":-0.55},{"z":-0.5,"lo":-0.55,"hi":-0.45},{"z":-0.4,"lo":-0.45,"hi":-0.35},{"z":-0.3,"lo":-0.35,"hi":-0.25},{"z":-0.2,"lo":-0.25,"hi":-0.15},{"z":-0.1,"lo":-0.15,"hi":-0.05},
    {"z":0,"lo":-0.05,"hi":0.05},{"z":0.1,"lo":0.05,"hi":0.15},{"z":0.2,"lo":0.15,"hi":0.25},{"z":0.3,"lo":0.25,"hi":0.35},{"z":0.4,"lo":0.35,"hi":0.45},{"z":0.5,"lo":0.45,"hi":0.55},{"z":0.6,"lo":0.55,"hi":0.65},{"z":0.7,"lo":0.65,"hi":0.75},{"z":0.8,"lo":0.75,"hi":0.85},{"z":0.9,"lo":0.85,"hi":0.95},{"z":1.0,"lo":0.95,"hi":1.05}
  ],
  "cticks": [
    {"v":-1.0},{"v":-0.8},{"v":-0.6},{"v":-0.4},{"v":-0.2},{"v":0},{"v":0.2},{"v":0.4},{"v":0.6},{"v":0.8},{"v":1.0}
  ]
},
"bounds": "flush",
"spacing": 117,
"hconcat": [
  {
    "width": 485, "height": 444,
    "title": {"text": "Data-driven model", "anchor": "middle", "offset": 2},
    "resolve": {"scale": {"x": "independent", "y": "independent"}},
    "layer": [
      {
        "layer": [
          {
            "data": {"name": "a_fill"},
            "mark": {"type": "area", "interpolate": "monotone", "clip": true},
            "encoding": {
              "x": {"field": "t", "type": "quantitative", "scale": {"domain": [0, 90], "nice": false, "zero": false}, "axis": {"values": [0, 20, 40, 60, 80], "format": "d", "labelPadding": 7}},
              "y": {"field": "hi", "type": "quantitative", "stack": null, "scale": {"domain": [0.983, 4.063], "nice": false, "zero": false}, "axis": {"values": [1, 1.5, 2, 2.5, 3, 3.5, 4], "format": "~g", "labelPadding": 6}},
              "y2": {"field": "lo"},
              "color": {"field": "z", "type": "ordinal", "legend": null, "scale": {"domain": [-1.1,-1.0,-0.9,-0.8,-0.7,-0.6,-0.5,-0.4,-0.3,-0.2,-0.1,-0.05,0,0.1,0.2,0.3,0.4,0.5,0.6,0.7,0.8,0.9,1.0], "range": ["#000000","#67001f","#8c0c25","#b2182b","#c43c3c","#d6604d","#e58368","#f4a582","#f7c0a3","#fad7c7","#fbe7df","#f8efee","#f4f4f4","#e2ebf2","#d1e5f0","#b1d5e7","#92c5de","#6aaed4","#4393c3","#3381bc","#2166ac","#174b8d","#053061"]}},
              "detail": {"field": "p"}
            }
          },
          {
            "data": {"name": "a_lines"},
            "mark": {"type": "line", "color": "#000000", "strokeWidth": 1.6, "interpolate": "monotone", "clip": true},
            "encoding": {
              "x": {"field": "t", "type": "quantitative"},
              "y": {"field": "v", "type": "quantitative"},
              "detail": {"field": "id"}
            }
          },
          {"data": {"values": [{}]}, "mark": {"type": "rule", "color": "#000000", "strokeWidth": 2}, "encoding": {"x": {"datum": 90}}},
          {"data": {"values": [{}]}, "mark": {"type": "text", "text": "Disruption", "font": "Lato", "fontSize": 24, "color": "#ffffff", "align": "center", "baseline": "middle"}, "encoding": {"x": {"datum": 14.47}, "y": {"datum": 3.466}}},
          {"data": {"values": [{}]}, "mark": {"type": "text", "text": "Hit & Run", "font": "Lato", "fontSize": 24, "color": "#000000", "align": "center", "baseline": "middle"}, "encoding": {"x": {"datum": 55.07}, "y": {"datum": 2.932}}},
          {"data": {"values": [{}]}, "mark": {"type": "text", "text": "Graze & Merge", "font": "Lato", "fontSize": 24, "color": "#ffffff", "align": "center", "baseline": "middle", "angle": 42}, "encoding": {"x": {"datum": 22.27}, "y": {"datum": 1.548}}},
          {"data": {"values": [{}]}, "mark": {"type": "text", "text": "Merge", "font": "Lato", "fontSize": 24, "color": "#ffffff", "align": "center", "baseline": "middle", "angle": 44}, "encoding": {"x": {"datum": 7.79}, "y": {"datum": 1.351}}},
          {"data": {"values": [{}]}, "mark": {"type": "text", "text": "V", "angle": 270, "align": "left", "baseline": "alphabetic", "font": "Liberation Sans", "fontSize": 21, "color": "#262626"}, "encoding": {"x": {"datum": -10.95}, "y": {"datum": 2.185}}},
          {"data": {"values": [{}]}, "mark": {"type": "text", "text": "coll", "angle": 270, "align": "left", "baseline": "alphabetic", "font": "Liberation Sans", "fontSize": 17.5, "color": "#262626"}, "encoding": {"x": {"datum": -8.91}, "y": {"datum": 2.289}}},
          {"data": {"values": [{}]}, "mark": {"type": "text", "text": "/V", "angle": 270, "align": "left", "baseline": "alphabetic", "font": "Liberation Sans", "fontSize": 21, "color": "#262626"}, "encoding": {"x": {"datum": -10.95}, "y": {"datum": 2.474}}},
          {"data": {"values": [{}]}, "mark": {"type": "text", "text": "esc", "angle": 270, "align": "left", "baseline": "alphabetic", "font": "Liberation Sans", "fontSize": 17.5, "color": "#262626"}, "encoding": {"x": {"datum": -8.91}, "y": {"datum": 2.66}}},
          {"data": {"values": [{}]}, "mark": {"type": "text", "text": "θ", "align": "left", "baseline": "alphabetic", "font": "Liberation Serif", "fontStyle": "italic", "fontSize": 26, "color": "#262626"}, "encoding": {"x": {"datum": 36.18}, "y": {"datum": 0.664}}},
          {"data": {"values": [{}]}, "mark": {"type": "text", "text": "coll", "align": "left", "baseline": "alphabetic", "font": "Liberation Sans", "fontSize": 16, "color": "#262626"}, "encoding": {"x": {"datum": 38.6}, "y": {"datum": 0.609}}},
          {"data": {"values": [{}]}, "mark": {"type": "text", "text": "[deg]", "align": "left", "baseline": "alphabetic", "font": "Liberation Sans", "fontSize": 27, "color": "#262626"}, "encoding": {"x": {"datum": 43.6}, "y": {"datum": 0.664}}}
        ]
      },
      {
        "layer": [
          {
            "data": {"name": "cbar"},
            "mark": {"type": "rect"},
            "encoding": {
              "x": {"field": "lo", "type": "quantitative", "scale": {"domain": [-2.62457, -0.325], "nice": false, "zero": false}, "axis": null},
              "x2": {"field": "hi"},
              "y": {"datum": 0, "type": "quantitative", "scale": {"domain": [2.92, 20.68], "nice": false, "zero": false}, "axis": null},
              "y2": {"datum": 1},
              "color": {"field": "z", "type": "ordinal", "legend": null}
            }
          },
          {"data": {"values": [{}]}, "mark": {"type": "rect", "filled": false, "color": "#000000", "stroke": "#000000", "strokeWidth": 1}, "encoding": {"x": {"datum": -1.15}, "x2": {"datum": 1.05}, "y": {"datum": 0}, "y2": {"datum": 1}}},
          {"data": {"name": "cticks"}, "mark": {"type": "rule", "color": "#222222", "strokeWidth": 1}, "encoding": {"x": {"field": "v", "type": "quantitative"}, "y": {"datum": 0}, "y2": {"datum": -0.24}}},
          {"data": {"name": "cticks"}, "mark": {"type": "text", "baseline": "top", "align": "center", "font": "Liberation Sans", "fontSize": 18, "color": "#262626"}, "encoding": {"x": {"field": "v", "type": "quantitative"}, "y": {"datum": -0.56}, "text": {"field": "v", "type": "quantitative", "format": ".1f"}}}
        ]
      }
    ]
  },
  {
    "width": 474, "height": 441.7,
    "title": {"text": "Stewart & Leinhardt 2012", "anchor": "middle", "offset": 2, "dx": 21},
    "layer": [
      {
        "data": {"name": "b_fill"},
        "mark": {"type": "area", "interpolate": "monotone", "clip": true},
        "encoding": {
          "x": {"field": "t", "type": "quantitative", "scale": {"domain": [0, 88.8], "nice": false, "zero": false}, "axis": {"values": [0, 20, 40, 60, 80], "format": "d", "labelPadding": 7}},
          "y": {"field": "hi", "type": "quantitative", "stack": null, "scale": {"domain": [1, 4.025], "nice": false, "zero": false}, "axis": {"values": [1, 1.5, 2, 2.5, 3, 3.5, 4], "format": "~g", "labelPadding": 6}},
          "y2": {"field": "lo"},
          "color": {"field": "z", "type": "ordinal", "legend": null, "scale": {"domain": [-1.1,-1.0,-0.9,-0.8,-0.7,-0.6,-0.5,-0.4,-0.3,-0.2,-0.1,-0.05,0,0.1,0.2,0.3,0.4,0.5,0.6,0.7,0.8,0.9,1.0], "range": ["#000000","#67001f","#8c0c25","#b2182b","#c43c3c","#d6604d","#e58368","#f4a582","#f7c0a3","#fad7c7","#fbe7df","#f8efee","#f4f4f4","#e2ebf2","#d1e5f0","#b1d5e7","#92c5de","#6aaed4","#4393c3","#3381bc","#2166ac","#174b8d","#053061"]}},
          "detail": {"field": "p"}
        }
      },
      {"data": {"values": [{}]}, "mark": {"type": "rule", "color": "#000000", "strokeWidth": 1.5}, "encoding": {"y": {"datum": 4}}},
      {"data": {"values": [{}]}, "mark": {"type": "rule", "color": "#000000", "strokeWidth": 1.5}, "encoding": {"y": {"datum": 1}}},
      {"data": {"values": [{}]}, "mark": {"type": "text", "text": "V", "angle": 270, "align": "left", "baseline": "alphabetic", "font": "Liberation Sans", "fontSize": 21, "color": "#262626"}, "encoding": {"x": {"datum": -11.43}, "y": {"datum": 2.171}}},
      {"data": {"values": [{}]}, "mark": {"type": "text", "text": "coll", "angle": 270, "align": "left", "baseline": "alphabetic", "font": "Liberation Sans", "fontSize": 17.5, "color": "#262626"}, "encoding": {"x": {"datum": -9.37}, "y": {"datum": 2.274}}},
      {"data": {"values": [{}]}, "mark": {"type": "text", "text": "/V", "angle": 270, "align": "left", "baseline": "alphabetic", "font": "Liberation Sans", "fontSize": 21, "color": "#262626"}, "encoding": {"x": {"datum": -11.43}, "y": {"datum": 2.457}}},
      {"data": {"values": [{}]}, "mark": {"type": "text", "text": "esc", "angle": 270, "align": "left", "baseline": "alphabetic", "font": "Liberation Sans", "fontSize": 17.5, "color": "#262626"}, "encoding": {"x": {"datum": -9.37}, "y": {"datum": 2.639}}},
      {"data": {"values": [{}]}, "mark": {"type": "text", "text": "θ", "align": "left", "baseline": "alphabetic", "font": "Liberation Serif", "fontStyle": "italic", "fontSize": 26, "color": "#262626"}, "encoding": {"x": {"datum": 35.78}, "y": {"datum": 0.628}}},
      {"data": {"values": [{}]}, "mark": {"type": "text", "text": "coll", "align": "left", "baseline": "alphabetic", "font": "Liberation Sans", "fontSize": 19, "color": "#262626"}, "encoding": {"x": {"datum": 37.84}, "y": {"datum": 0.552}}},
      {"data": {"values": [{}]}, "mark": {"type": "text", "text": "[deg]", "align": "left", "baseline": "alphabetic", "font": "Liberation Sans", "fontSize": 25, "color": "#262626"}, "encoding": {"x": {"datum": 43.84}, "y": {"datum": 0.628}}}
    ]
  }
]
}
